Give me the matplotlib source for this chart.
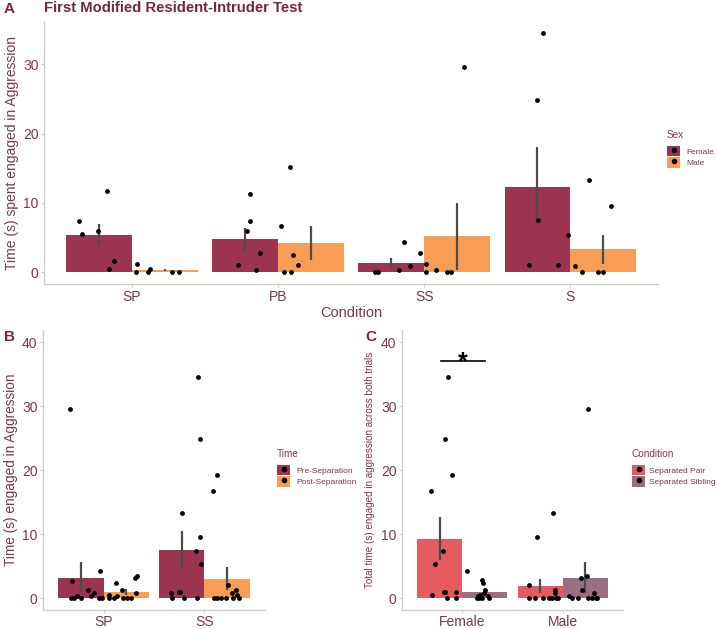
import matplotlib
matplotlib.use("Agg")
import matplotlib.pyplot as plt
from matplotlib.patches import Patch
from matplotlib.lines import Line2D
from matplotlib.legend_handler import HandlerTuple
import numpy as np

plt.rcParams['font.family'] = ['Liberation Sans', 'DejaVu Sans']

# ---------------- Data: Panel A ----------------
a_categories = ["SP", "PB", "SS", "S"]
a_female_mean = [5.4, 4.7, 1.3, 12.3]
a_male_mean = [0.28, 4.2, 5.2, 3.3]
a_female_lo = [3.8, 3.1, 0.6, 6.8]
a_female_hi = [7.0, 6.4, 2.0, 18.0]
a_male_lo = [0.15, 1.8, 0.3, 1.2]
a_male_hi = [0.45, 6.6, 10.0, 5.4]
a_female_pts = [
    [7.3, 5.5, 5.9, 11.7, 1.6, 0.5],
    [1.0, 5.9, 11.3, 7.3, 2.7, 0.3],
    [0, 0, 0.3, 0.8, 4.3, 2.8],
    [34.5, 24.8, 7.45, 1.0, 1.0, 5.3],
]
a_female_jit = [
    [-0.36, -0.34, -0.23, -0.17, -0.12, -0.155],
    [-0.27, -0.21, -0.19, -0.19, -0.12, -0.15],
    [-0.336, -0.317, -0.17, -0.098, -0.135, -0.028],
    [-0.19, -0.226, -0.223, -0.282, -0.082, -0.018],
]
a_male_pts = [
    [0, 1.2, 0, 0.5, 0, 0],
    [6.7, 15.2, 2.5, 1.0, 0, 0],
    [1.2, 0, 0.3, 0, 0, 29.6],
    [13.3, 9.5, 0.8, 0, 0, 0],
]
a_male_jit = [
    [0.027, 0.034, 0.114, 0.127, 0.276, 0.321],
    [0.02, 0.085, 0.10, 0.14, 0.044, 0.092],
    [0.013, 0.013, 0.083, 0.159, 0.186, 0.271],
    [0.126, 0.276, 0.034, 0.08, 0.187, 0.224],
]

# ---------------- Data: Panel B ----------------
b_categories = ["SP", "SS"]
b_pre_mean = [3.2, 7.5]
b_post_mean = [0.9, 3.0]
b_pre_lo = [0.8, 4.5]
b_pre_hi = [5.7, 10.5]
b_post_lo = [0.5, 1.2]
b_post_hi = [1.4, 4.9]
b_pre_pts = [
    [29.5, 2.7, 0, 0, 0.26, 0, 1.2, 0.26, 0.8, 0, 0, 4.2],
    [34.5, 24.8, 19.2, 16.8, 13.3, 9.5, 7.4, 5.3, 1.0, 1.0, 0.8, 0, 0, 0],
]
b_pre_jit = [
    [-0.33, -0.31, -0.325, -0.29, -0.265, -0.22, -0.15, -0.127, -0.094, -0.045, -0.018, -0.035],
    [-0.066, -0.044, 0.128, 0.082, -0.225, -0.044, -0.083, -0.031, -0.252, -0.242, -0.334, -0.318, -0.202, -0.076],
]
b_post_pts = [
    [0.5, 0, 0, 0.26, 2.3, 1.2, 0, 0, 0, 0.8, 3.2, 3.5],
    [2.0, 0, 0, 0, 0, 0.8, 1.2, 0.5, 0, 0],
]
b_post_jit = [
    [0.055, 0.058, 0.107, 0.13, 0.12, 0.18, 0.196, 0.23, 0.27, 0.32, 0.31, 0.33],
    [0.237, 0.098, 0.122, 0.165, 0.214, 0.277, 0.31, 0.32, 0.286, 0.34],
]

# ---------------- Data: Panel C ----------------
c_categories = ["Female", "Male"]
c_pair_mean = [9.2, 1.9]
c_sib_mean = [1.0, 3.1]
c_pair_lo = [5.9, 0.8]
c_pair_hi = [12.6, 3.0]
c_sib_lo = [0.6, 0.8]
c_sib_hi = [1.4, 5.6]
c_pair_pts = [
    [34.5, 24.8, 19.2, 16.8, 7.4, 5.3, 0.5, 0.9, 1.0, 0, 0, 1.0],
    [2.0, 9.5, 13.3, 1.2, 0.8, 0, 0, 0, 0, 0, 0, 0],
]
c_pair_jit = [
    [-0.147, -0.17, -0.101, -0.312, -0.19, -0.273, -0.305, -0.183, -0.173, -0.157, -0.067, -0.061],
    [-0.331, -0.259, -0.1, -0.08, -0.08, -0.331, -0.275, -0.2, -0.133, -0.11, -0.066, -0.044],
]
c_sib_pts = [
    [4.2, 2.8, 2.3, 1.2, 0.8, 0.5, 0.26, 0, 0, 0, 0.26, 0],
    [29.5, 3.5, 3.1, 1.2, 0.8, 0.26, 0, 0, 0, 0, 0, 0],
]
c_sib_jit = [
    [0.048, 0.2, 0.206, 0.226, 0.213, 0.173, 0.157, 0.147, 0.167, 0.193, 0.26, 0.266],
    [0.254, 0.244, 0.181, 0.191, 0.31, 0.058, 0.092, 0.148, 0.251, 0.29, 0.33, 0.346],
]
c_sig_y = 37.0

# ---------------- Style ----------------
TXT = '#7b3650'
TITLE = '#76263d'
SPINE = '#cfcfc7'
ERR = '#4d4d4d'
C_FEM = '#9b3450'
C_MALE = '#f79d56'
C_PAIR = '#e45c62'
C_SIB = '#9a6e83'
W = 0.45

W_PX, H_PX = 717, 629
fig = plt.figure(figsize=(W_PX / 100, H_PX / 100), dpi=100)


def px_axes(left, top, right, bottom):
    return fig.add_axes([left / W_PX, 1 - bottom / H_PX, (right - left) / W_PX, (bottom - top) / H_PX])


def style(ax, cats, ylim, yticks, ticksize=10, xpad=1.5):
    n = len(cats)
    ax.set_xlim(0.4, n + 0.6)
    ax.set_ylim(*ylim)
    ax.set_xticks(np.arange(1, n + 1))
    ax.set_xticklabels(cats)
    ax.set_yticks(yticks)
    for s in ['top', 'right']:
        ax.spines[s].set_visible(False)
    for s in ['left', 'bottom']:
        ax.spines[s].set_color(SPINE)
        ax.spines[s].set_linewidth(1.0)
    ax.tick_params(axis='both', colors=SPINE, labelcolor=TXT, labelsize=ticksize, length=2.5, width=0.8, pad=1.5)
    ax.tick_params(axis='x', pad=xpad)
    ax.set_facecolor('white')


def draw_group(ax, means, lo, hi, pts, jit, offset, color):
    x = np.arange(1, len(means) + 1) + offset
    ax.bar(x, means, width=W, color=color, zorder=1)
    for i in range(len(means)):
        ax.plot([x[i], x[i]], [lo[i], hi[i]], color=ERR, lw=1.6, zorder=3, solid_capstyle='butt')
        cx = i + 1
        ax.scatter(cx + np.array(jit[i]), pts[i], s=12, color='black', zorder=4, linewidths=0)


def add_legend(ax, title, labels, colors, anchor, textpad=0.7):
    handles = [(Patch(facecolor=c, edgecolor='none'),
                Line2D([], [], marker='o', color='black', ls='none', markersize=3.0)) for c in colors]
    leg = ax.legend(handles, labels, title=title, loc='upper left', bbox_to_anchor=anchor,
                    bbox_transform=fig.transFigure, frameon=False,
                    handler_map={tuple: HandlerTuple(ndivide=1, pad=0)},
                    handlelength=1.6, handleheight=1.6, labelspacing=0.1, handletextpad=textpad,
                    borderaxespad=0, borderpad=0, fontsize=6.0, title_fontsize=7.2)
    leg._legend_box.align = 'left'
    leg._legend_box.sep = 4
    for t in leg.get_texts():
        t.set_color(TXT)
    leg.get_title().set_color(TXT)
    return leg


# ---------------- Panel A ----------------
axA = px_axes(44, 22, 658, 284)
style(axA, a_categories, (-1.73, 36.1), [0, 10, 20, 30])
draw_group(axA, a_female_mean, a_female_lo, a_female_hi, a_female_pts, a_female_jit, -W / 2, C_FEM)
draw_group(axA, a_male_mean, a_male_lo, a_male_hi, a_male_pts, a_male_jit, W / 2, C_MALE)
axA.set_xlabel("Condition", color=TXT, fontsize=10.5, labelpad=2)
axA.set_ylabel("Time (s) spent engaged in Aggression", color=TXT, fontsize=10, labelpad=3)
add_legend(axA, "Sex", ["Female", "Male"], [C_FEM, C_MALE], (667 / W_PX, 1 - 130 / H_PX))
fig.text(44 / W_PX, 1 - 8 / H_PX, "First Modified Resident-Intruder Test", color=TITLE,
         fontsize=10.7, fontweight='bold', va='center', ha='left')
fig.text(4 / W_PX, 1 - 9 / H_PX, "A", color=TITLE, fontsize=11, fontweight='bold', va='center', ha='left')

# ---------------- Panel B ----------------
axB = px_axes(43, 330, 265, 610)
style(axB, b_categories, (-1.86, 41.9), [0, 10, 20, 30, 40], xpad=1.0)
draw_group(axB, b_pre_mean, b_pre_lo, b_pre_hi, b_pre_pts, b_pre_jit, -W / 2, C_FEM)
draw_group(axB, b_post_mean, b_post_lo, b_post_hi, b_post_pts, b_post_jit, W / 2, C_MALE)
axB.set_ylabel("Time (s) engaged in Aggression", color=TXT, fontsize=9.8, labelpad=3)
add_legend(axB, "Time", ["Pre-Separation", "Post-Separation"], [C_FEM, C_MALE], (277 / W_PX, 1 - 449 / H_PX))
fig.text(4 / W_PX, 1 - 337 / H_PX, "B", color=TITLE, fontsize=11, fontweight='bold', va='center', ha='left')

# ---------------- Panel C ----------------
axC = px_axes(402, 330, 623, 610)
style(axC, c_categories, (-1.86, 41.9), [0, 10, 20, 30, 40], xpad=1.0)
draw_group(axC, c_pair_mean, c_pair_lo, c_pair_hi, c_pair_pts, c_pair_jit, -W / 2, C_PAIR)
draw_group(axC, c_sib_mean, c_sib_lo, c_sib_hi, c_sib_pts, c_sib_jit, W / 2, C_SIB)
axC.set_ylabel("Total time (s) engaged in aggression across both trials", color=TXT, fontsize=7.1, labelpad=4)
axC.plot([1 - 0.21, 1 + 0.225], [c_sig_y, c_sig_y], color='black', lw=1.2, zorder=5)
axC.text(1.0, c_sig_y - 1.2, "*", color='black', fontsize=18, fontweight='bold', ha='center', va='baseline')
add_legend(axC, "Condition", ["Separated Pair", "Separated Sibling"], [C_PAIR, C_SIB],
           (632 / W_PX, 1 - 449 / H_PX), textpad=0.45)
fig.text(365 / W_PX, 1 - 337 / H_PX, "C", color=TITLE, fontsize=11, fontweight='bold', va='center', ha='left')

fig.savefig("out.png", dpi=100)
